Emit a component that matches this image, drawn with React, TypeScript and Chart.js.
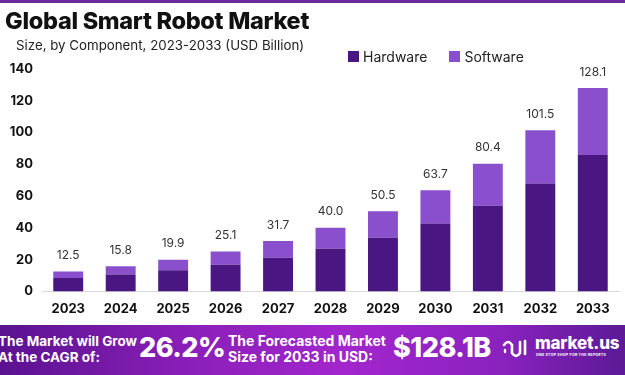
import React, { useEffect, useRef } from "react";
import { Chart, registerables } from "chart.js";

Chart.register(...registerables);

const years = ["2023", "2024", "2025", "2026", "2027", "2028", "2029", "2030", "2031", "2032", "2033"];
const totals = [12.5, 15.8, 19.9, 25.1, 31.7, 40.0, 50.5, 63.7, 80.4, 101.5, 128.1];
const hardware = [8.4, 10.6, 13.3, 16.8, 21.2, 26.8, 33.8, 42.7, 53.9, 68.0, 85.8];
const software = [4.1, 5.2, 6.6, 8.3, 10.5, 13.2, 16.7, 21.0, 26.5, 33.5, 42.3];
const yTicks = [0, 20, 40, 60, 80, 100, 120, 140];

const HW = "#4a1682";
const SW = "#8a4fcd";
const FONT = "Inter, 'Open Sans', sans-serif";

const totalLabels = {
  id: "totalLabels",
  afterDatasetsDraw(chart: any) {
    const ctx = chart.ctx;
    const meta = chart.getDatasetMeta(1);
    ctx.save();
    ctx.font = `400 12px ${FONT}`;
    ctx.fillStyle = "#333333";
    ctx.textAlign = "center";
    ctx.textBaseline = "middle";
    meta.data.forEach((bar: any, i: number) => {
      ctx.fillText(totals[i].toFixed(1), bar.x, bar.y - 16);
    });
    ctx.restore();
  },
};

export default function App() {
  const ref = useRef<HTMLCanvasElement>(null);
  useEffect(() => {
    if (!ref.current) return;
    const chart = new Chart(ref.current, {
      type: "bar",
      data: {
        labels: years,
        datasets: [
          { label: "Hardware", data: hardware, backgroundColor: HW, barPercentage: 0.57, categoryPercentage: 1 },
          { label: "Software", data: software, backgroundColor: SW, barPercentage: 0.57, categoryPercentage: 1 },
        ],
      },
      options: {
        responsive: false,
        animation: false,
        layout: { padding: { top: 69, right: 6, left: 4, bottom: 0 } },
        plugins: { legend: { display: false }, tooltip: { enabled: false } },
        scales: {
          x: {
            stacked: true,
            grid: { display: false, drawTicks: false },
            border: { color: "#d9d9d9", width: 1 },
            ticks: { color: "#111", font: { family: FONT, size: 13, weight: "bold" }, padding: 10 },
          },
          y: {
            stacked: true,
            min: 0,
            max: 140,
            afterBuildTicks: (axis: any) => {
              axis.ticks = yTicks.map((v) => ({ value: v }));
            },
            afterFit: (axis: any) => {
              axis.width = 38;
            },
            grid: { display: false, drawTicks: false },
            border: { display: false },
            ticks: { color: "#111", font: { family: FONT, size: 13, weight: "bold" }, padding: 9 },
          },
        },
      },
      plugins: [totalLabels],
    });
    return () => chart.destroy();
  }, []);

  const white = "#ffffff";
  return (
    <div style={{ position: "fixed", left: 0, top: 0, width: 625, height: 375, background: "#fff", overflow: "hidden", fontFamily: FONT }}>
      <canvas ref={ref} width={625} height={327} style={{ position: "absolute", left: 0, top: 0 }} />
      <div style={{ position: "absolute", left: 0, top: 0, width: 625, height: 3, background: "#6a2a9c" }} />
      <div style={{ position: "absolute", left: 5, top: 6, fontSize: 23.5, fontWeight: 800, color: "#111", letterSpacing: -0.3 }}>
        Global Smart Robot Market
      </div>
      <div style={{ position: "absolute", left: 16, top: 37, fontSize: 13.3, color: "#222" }}>
        Size, by Component, 2023-2033 (USD Billion)
      </div>
      <div style={{ position: "absolute", left: 348, top: 48, fontSize: 14, color: "#222", display: "flex", alignItems: "center" }}>
        <span style={{ display: "inline-block", width: 11, height: 11, background: HW, marginRight: 4 }} />
        <span style={{ marginRight: 22 }}>Hardware</span>
        <span style={{ display: "inline-block", width: 11, height: 11, background: SW, marginRight: 4 }} />
        <span>Software</span>
      </div>
      <div
        style={{
          position: "absolute",
          left: 0,
          top: 325,
          width: 625,
          height: 50,
          background: "linear-gradient(90deg, #5a1290 0%, #8a1fb8 30%, #a226cc 55%, #8a22bf 80%, #5c1a96 100%)",
          color: white,
        }}
      >
        <div style={{ position: "absolute", left: -2, top: 8, fontSize: 13.5, fontWeight: 700, lineHeight: "16px", whiteSpace: "nowrap" }}>
          The Market will Grow
          <br />
          At the CAGR of:
        </div>
        <div style={{ position: "absolute", left: 139, top: 6, fontSize: 27, fontWeight: 800, lineHeight: "34px", letterSpacing: -0.5 }}>26.2%</div>
        <div style={{ position: "absolute", left: 228, top: 8, fontSize: 14, fontWeight: 700, lineHeight: "16px", whiteSpace: "nowrap" }}>
          The Forecasted Market
          <br />
          Size for 2033 in USD:
        </div>
        <div style={{ position: "absolute", left: 393, top: 6, fontSize: 27, fontWeight: 800, lineHeight: "34px", letterSpacing: -0.5 }}>$128.1B</div>
        <svg style={{ position: "absolute", left: 502, top: 12 }} width={30} height={22} viewBox="0 0 30 22">
          <path d="M2 8 Q6 2 10 8 L10 16 Q14 22 18 16 L18 5" stroke="#fff" strokeWidth={2.6} fill="none" strokeLinecap="round" />
          <path d="M23 4 L23 17" stroke="#fff" strokeWidth={2.6} strokeLinecap="round" />
          <path d="M3 13 L3 15" stroke="#fff" strokeWidth={2.4} strokeLinecap="round" />
        </svg>
        <div style={{ position: "absolute", left: 535, top: 8, fontSize: 17, fontWeight: 800, lineHeight: "20px", letterSpacing: -0.2 }}>market.us</div>
        <div style={{ position: "absolute", left: 536, top: 28, fontSize: 3.5, fontWeight: 700, lineHeight: "5px", letterSpacing: 0.3, whiteSpace: "nowrap" }}>
          ONE STOP SHOP FOR THE REPORTS
        </div>
      </div>
    </div>
  );
}
